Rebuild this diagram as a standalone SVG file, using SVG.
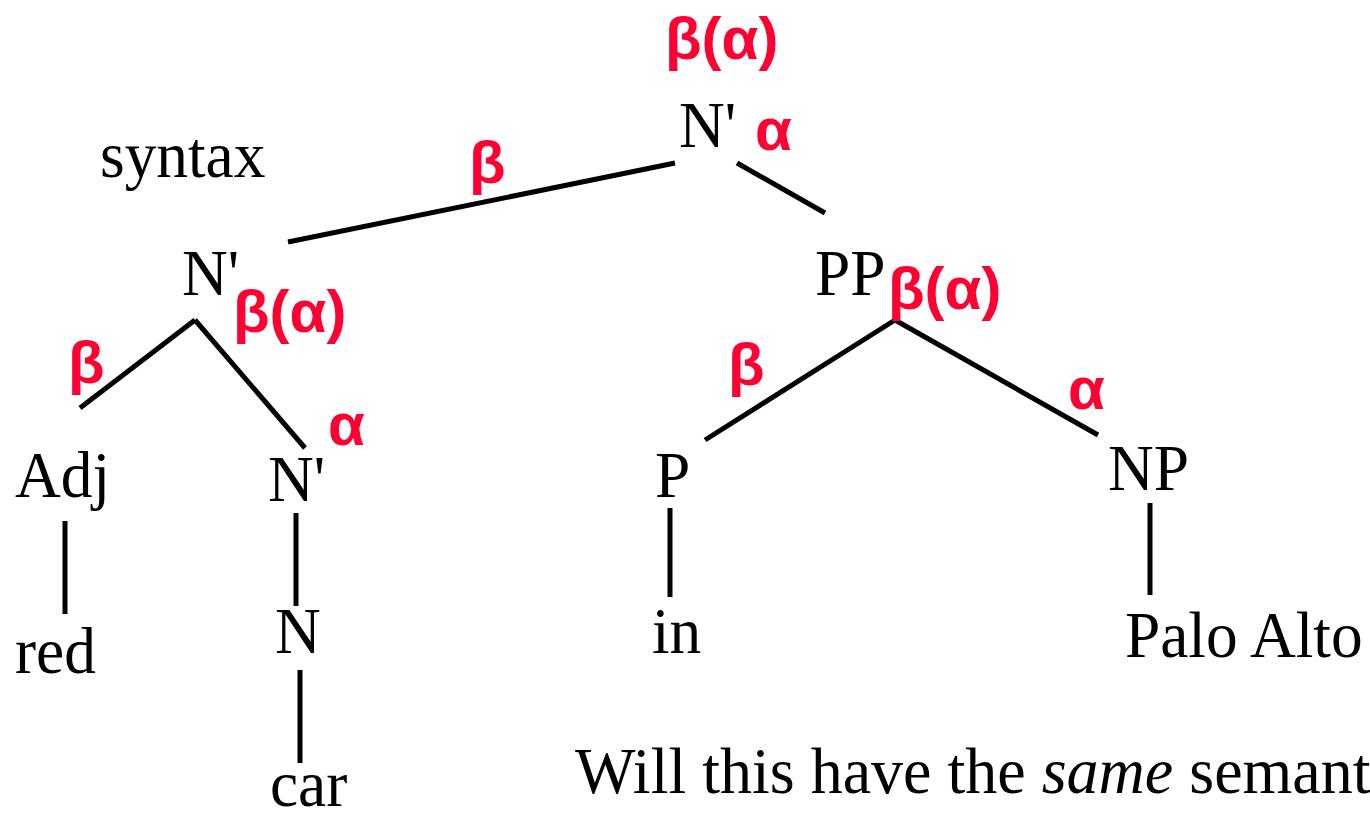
<svg xmlns="http://www.w3.org/2000/svg" width="1370" height="819" viewBox="0 0 1370 819">
<style>
.t{font-family:"Liberation Serif","Times New Roman",serif;font-size:66px;fill:#000}
.r{font-family:"Liberation Sans",Arial,sans-serif;font-size:60px;font-weight:bold;fill:#ff0033}
.e{stroke:#000;stroke-width:5;fill:none}
</style>
<rect width="1370" height="819" fill="#fff"/>
<g id="connectors">
<line class="e" x1="288" y1="242" x2="675" y2="163"/>
<line class="e" x1="737" y1="163" x2="825" y2="213"/>
<line class="e" x1="195" y1="320" x2="80" y2="408"/>
<line class="e" x1="195" y1="320" x2="305" y2="448"/>
<line class="e" x1="65" y1="521" x2="65" y2="614"/>
<line class="e" x1="296" y1="513" x2="296" y2="606"/>
<line class="e" x1="300" y1="670" x2="300" y2="763"/>
<line class="e" x1="895" y1="320" x2="705" y2="440"/>
<line class="e" x1="895" y1="320" x2="1098" y2="435"/>
<line class="e" x1="670" y1="508" x2="670" y2="597"/>
<line class="e" x1="1150" y1="503" x2="1150" y2="595"/>
</g>
<g id="labels">
<text class="r" x="665" y="59">β(α)</text>
<text class="r" x="755" y="150">α</text>
<text class="r" x="469" y="183">β</text>
<text class="r" x="233" y="332">β(α)</text>
<text class="r" x="68" y="383">β</text>
<text class="r" x="328" y="445">α</text>
<text class="r" x="888" y="309">β(α)</text>
<text class="r" x="728" y="385">β</text>
<text class="r" x="1068" y="409">α</text>
<text class="t" transform="translate(100,177) scale(0.96,1)">syntax</text>
<text class="t" transform="translate(575,793) scale(0.97,1)">Will this have the <tspan font-style="italic">same</tspan> semant</text>
</g>
<g id="n-root"><text class="t" transform="translate(679,147) scale(0.96,1)">N'</text></g>
<g id="n-left"><text class="t" transform="translate(182,295) scale(0.96,1)">N'</text></g>
<g id="n-adj"><text class="t" transform="translate(15,497) scale(0.96,1)">Adj</text></g>
<g id="n-red"><text class="t" transform="translate(15,673) scale(0.96,1)">red</text></g>
<g id="n-nbar"><text class="t" transform="translate(268,501) scale(0.96,1)">N'</text></g>
<g id="n-n"><text class="t" transform="translate(275,653) scale(0.96,1)">N</text></g>
<g id="n-car"><text class="t" transform="translate(270,806) scale(0.96,1)">car</text></g>
<g id="n-pp"><text class="t" transform="translate(815,295) scale(0.96,1)">PP</text></g>
<g id="n-p"><text class="t" transform="translate(655,497) scale(0.96,1)">P</text></g>
<g id="n-in"><text class="t" transform="translate(652,653) scale(0.96,1)">in</text></g>
<g id="n-np"><text class="t" transform="translate(1108,490) scale(0.96,1)">NP</text></g>
<g id="n-palo"><text class="t" transform="translate(1125,657) scale(0.96,1)">Palo Alto</text></g>
</svg>
